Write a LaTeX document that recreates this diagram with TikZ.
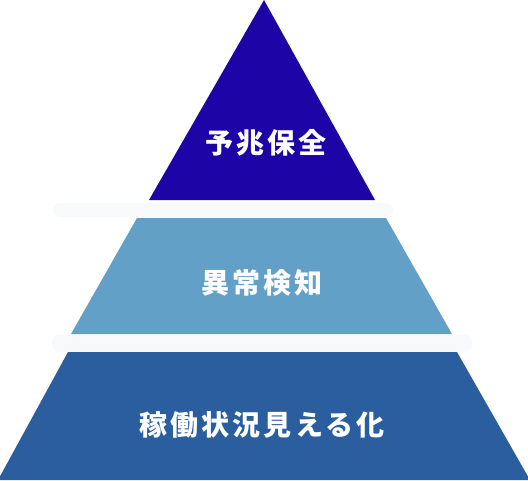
\documentclass[tikz,border=0pt]{standalone}
\usepackage{fontspec}
\usepackage{xcolor}
\usepackage{tikz}
\newfontfamily\jpfont[LetterSpace=11]{Noto Sans CJK JP}
\definecolor{tiertop}{RGB}{29,4,166}
\definecolor{tiermid}{RGB}{98,160,200}
\definecolor{tierbase}{RGB}{42,94,158}
\definecolor{tiershade}{RGB}{247,249,250}
\tikzset{
	tierlabel/.style={text=white, font=\jpfont\bfseries\fontsize{28}{30}\selectfont, inner sep=0pt},
	tiergap/.style={fill=tiershade, rounded corners=7pt}
}

\begin{document}
\begin{tikzpicture}[x=1pt, y=-1pt]
			\useasboundingbox (0,0) rectangle (528,480);
			% gaps between the tiers
			\fill[tiergap] (53,203) rectangle (393,217);
			\fill[tiergap] (52,335) rectangle (472,352);
			% tiers
			\fill[tiertop] (264,0) -- (375,200) -- (149,200) -- cycle;
			\fill[tiermid] (137,218) -- (386,218) -- (452,334) -- (71,334) -- cycle;
			\fill[tierbase] (68,352) -- (457,352) -- (530,480) -- (-2,480) -- cycle;
			% labels
			\node[tierlabel](predict) at (266,143) {予兆保全};
			\node[tierlabel](detect) at (262,283) {異常検知};
			\node[tierlabel](visual) at (262,425) {稼働状況見える化};
		\end{tikzpicture}
\end{document}
